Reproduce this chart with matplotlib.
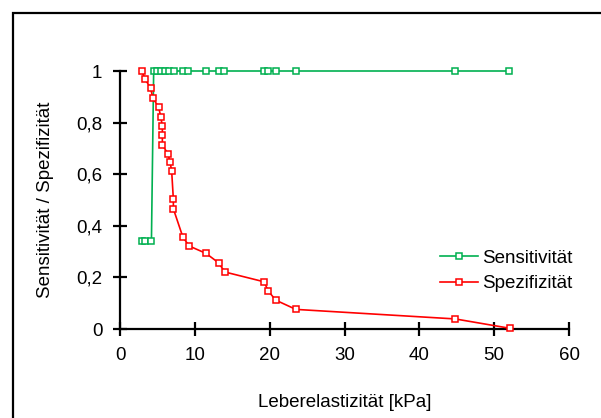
import matplotlib
matplotlib.use("Agg")
import matplotlib.pyplot as plt
from matplotlib.patches import Rectangle

plt.rcParams['font.family'] = ['Liberation Sans', 'DejaVu Sans']

sens_x = [2.9, 3.4, 4.2, 4.5, 4.95, 5.5, 6.0, 6.6, 7.2, 8.4, 9.1, 11.5, 13.2, 13.9,
          19.3, 19.8, 20.8, 23.5, 44.7, 52.0]
sens_y = [0.34, 0.34, 0.34, 1.0, 1.0, 1.0, 1.0, 1.0, 1.0, 1.0, 1.0, 1.0, 1.0, 1.0,
          1.0, 1.0, 1.0, 1.0, 1.0, 1.0]

spez_x = [2.9, 3.35, 4.1, 4.37, 5.17, 5.44, 5.66, 5.66, 5.66, 6.42, 6.68, 6.9, 7.13, 7.13,
          8.38, 9.22, 11.5, 13.2, 14.0, 19.25, 19.8, 20.8, 23.5, 44.8, 52.05]
spez_y = [1.0, 0.969, 0.933, 0.897, 0.859, 0.823, 0.787, 0.751, 0.714, 0.678, 0.648, 0.614,
          0.503, 0.466, 0.358, 0.322, 0.293, 0.256, 0.221, 0.183, 0.148, 0.112, 0.076,
          0.039, 0.003]

x_ticks = [0, 10, 20, 30, 40, 50, 60]
y_ticks = [0, 0.2, 0.4, 0.6, 0.8, 1.0]
y_tick_labels = ['0', '0,2', '0,4', '0,6', '0,8', '1']

fig = plt.figure(figsize=(6.01, 4.18), dpi=100)
fig.patches.append(Rectangle((13/601, -0.1), 1.2, (418-13)/418 + 0.1,
                             transform=fig.transFigure, fill=False,
                             edgecolor='black', linewidth=1.6))
ax = fig.add_axes([120/601, 89/418, 449/601, 258/418])

green = '#00B050'
red = '#FF0000'
ax.plot(sens_x, sens_y, color=green, lw=1.2, marker='s', ms=4.0, mfc='white',
        mec=green, mew=1.1, label='Sensitivität', clip_on=False, zorder=3)
ax.plot(spez_x, spez_y, color=red, lw=1.2, marker='s', ms=4.0, mfc='white',
        mec=red, mew=1.1, label='Spezifizität', clip_on=False, zorder=3)

ax.set_xlim(0, 60)
ax.set_ylim(0, 1)
ax.set_xticks(x_ticks)
ax.set_xticklabels([str(v) for v in x_ticks])
ax.set_yticks(y_ticks)
ax.set_yticklabels(y_tick_labels)

for s in ['top', 'right']:
    ax.spines[s].set_visible(False)
for s in ['left', 'bottom']:
    ax.spines[s].set_linewidth(1.6)
ax.tick_params(direction='inout', length=9.5, width=1.6, labelsize=13.5)
ax.tick_params(axis='y', pad=8)
ax.tick_params(axis='x', pad=8)

ax.set_xlabel('Leberelastizität [kPa]', fontsize=13.5, labelpad=22)
ax.set_ylabel('Sensitivität / Spezifizität', fontsize=13.5, labelpad=16)

leg = ax.legend(loc='upper left', bbox_to_anchor=(0.697, 0.337), frameon=False,
                fontsize=13.5, handlelength=2.0, handletextpad=0.2, labelspacing=0.45,
                borderaxespad=0)

fig.savefig('out.png', dpi=100)
